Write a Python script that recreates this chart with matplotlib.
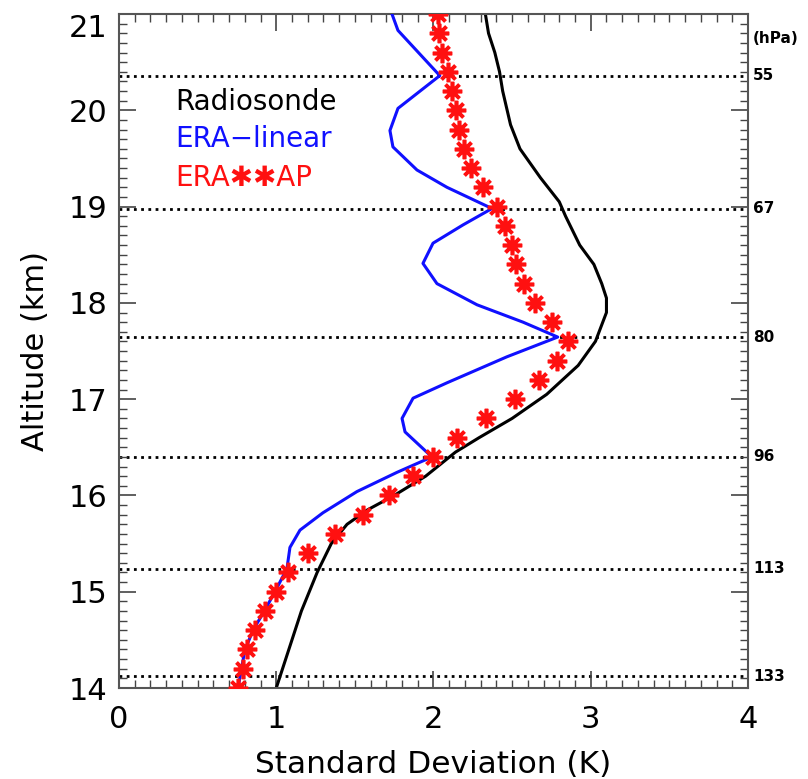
import matplotlib
matplotlib.use('Agg')
import matplotlib.pyplot as plt
from matplotlib.ticker import MultipleLocator

# Radiosonde standard deviation profile
radio_alt = [14.0, 14.4, 14.8, 15.2, 15.5, 15.7, 15.85, 16.0, 16.2, 16.45, 16.6, 16.8,
             17.05, 17.35, 17.6, 17.9, 18.05, 18.2, 18.4, 18.6, 18.9, 19.05, 19.3, 19.6,
             19.85, 20.2, 20.4, 20.6, 20.8, 21.0]
radio_sd = [1.00, 1.08, 1.16, 1.26, 1.35, 1.45, 1.58, 1.75, 1.95, 2.14, 2.29, 2.50,
            2.72, 2.92, 3.03, 3.10, 3.10, 3.07, 3.02, 2.93, 2.84, 2.80, 2.68, 2.55,
            2.49, 2.44, 2.42, 2.39, 2.35, 2.33]

# ERA-linear
lin_alt = [14.0, 14.21, 14.39, 14.60, 14.81, 15.02, 15.24, 15.46, 15.64, 15.82, 16.04,
           16.24, 16.40, 16.66, 16.80, 17.01, 17.17, 17.44, 17.645, 17.80, 17.98, 18.2,
           18.41, 18.62, 18.81, 18.98, 19.2, 19.38, 19.62, 19.79, 20.02, 20.36, 20.83, 21.0]
lin_sd = [0.757, 0.78, 0.80, 0.852, 0.928, 0.998, 1.068, 1.087, 1.151, 1.297, 1.513,
          1.768, 1.99, 1.819, 1.80, 1.870, 2.086, 2.467, 2.79, 2.569, 2.277, 2.022,
          1.933, 1.997, 2.188, 2.372, 2.086, 1.895, 1.742, 1.723, 1.774, 2.04, 1.774, 1.736]

# ERA-AP (stars)
ap_alt = [14.0, 14.2, 14.4, 14.6, 14.8, 15.0, 15.2, 15.4, 15.6, 15.8, 16.0, 16.2, 16.4,
          16.6, 16.8, 17.0, 17.2, 17.4, 17.6, 17.8, 18.0, 18.2, 18.4, 18.6, 18.8, 19.0,
          19.2, 19.4, 19.6, 19.8, 20.0, 20.2, 20.4, 20.6, 20.8, 21.0]
ap_sd = [0.757, 0.789, 0.814, 0.865, 0.928, 0.998, 1.075, 1.202, 1.374, 1.552, 1.717,
         1.870, 1.997, 2.149, 2.334, 2.518, 2.671, 2.785, 2.855, 2.754, 2.645, 2.576,
         2.525, 2.499, 2.455, 2.404, 2.315, 2.238, 2.194, 2.162, 2.143, 2.118, 2.092,
         2.054, 2.035, 2.029]

# Pressure levels
p_labels = ['55', '67', '80', '96', '113', '133']
p_alt = [20.36, 18.98, 17.645, 16.40, 15.24, 14.12]

fig = plt.figure(figsize=(8.08, 7.79), dpi=100)
ax = fig.add_axes([0.1473, 0.1168, 0.7784, 0.8652])

for a in p_alt:
    ax.axhline(a, color='black', linestyle=(0, (1.0, 1.6)), linewidth=2.0, zorder=1)

ax.plot(radio_sd, radio_alt, color='black', linewidth=2.2, zorder=2)
ax.plot(lin_sd, lin_alt, color='#1010ff', linewidth=2.2, zorder=3)
ax.plot(ap_sd, ap_alt, linestyle='none', marker=(8, 2, 0), markersize=14,
        markeredgewidth=2.6, color='#ff1010', zorder=4)

ax.set_xlim(0, 4)
ax.set_ylim(14, 21)
ax.xaxis.set_major_locator(MultipleLocator(1))
ax.xaxis.set_minor_locator(MultipleLocator(0.1))
ax.yaxis.set_major_locator(MultipleLocator(1))
ax.yaxis.set_minor_locator(MultipleLocator(0.1))
ax.tick_params(which='both', direction='in', top=True, right=True, color='#444444')
ax.tick_params(which='major', length=12, width=1.2)
ax.tick_params(which='minor', length=6, width=1.0)
ax.tick_params(axis='x', labelsize=22, pad=12)
ax.tick_params(axis='y', labelsize=22, pad=8)
for s in ax.spines.values():
    s.set_color('#555555')
    s.set_linewidth(1.5)

ax.set_xlabel('Standard Deviation (K)', fontsize=22.5, labelpad=12)
ax.set_ylabel('Altitude (km)', fontsize=22, labelpad=14)

fig.canvas.draw()
for lab in ax.get_yticklabels():
    if lab.get_text() == '21':
        lab.set_verticalalignment('top')

# pressure labels on the right
for lab, a in zip(p_labels, p_alt):
    ax.text(1.008, a, lab, transform=ax.get_yaxis_transform(), fontsize=11,
            fontweight='bold', ha='left', va='center')
ax.text(1.008, 20.75, '(hPa)', transform=ax.get_yaxis_transform(), fontsize=11,
        fontweight='bold', ha='left', va='center')

# legend-like labels
ax.text(0.089, 0.870, 'Radiosonde', transform=ax.transAxes, fontsize=20,
        color='black', va='center', ha='left')
ax.text(0.089, 0.814, 'ERA\u2212linear', transform=ax.transAxes, fontsize=20,
        color='#1010ff', va='center', ha='left')
ax.text(0.089, 0.756, 'ERA\u2731\u2731AP', transform=ax.transAxes, fontsize=20,
        color='#ff1010', va='center', ha='left')

fig.savefig('out.png', dpi=100)
